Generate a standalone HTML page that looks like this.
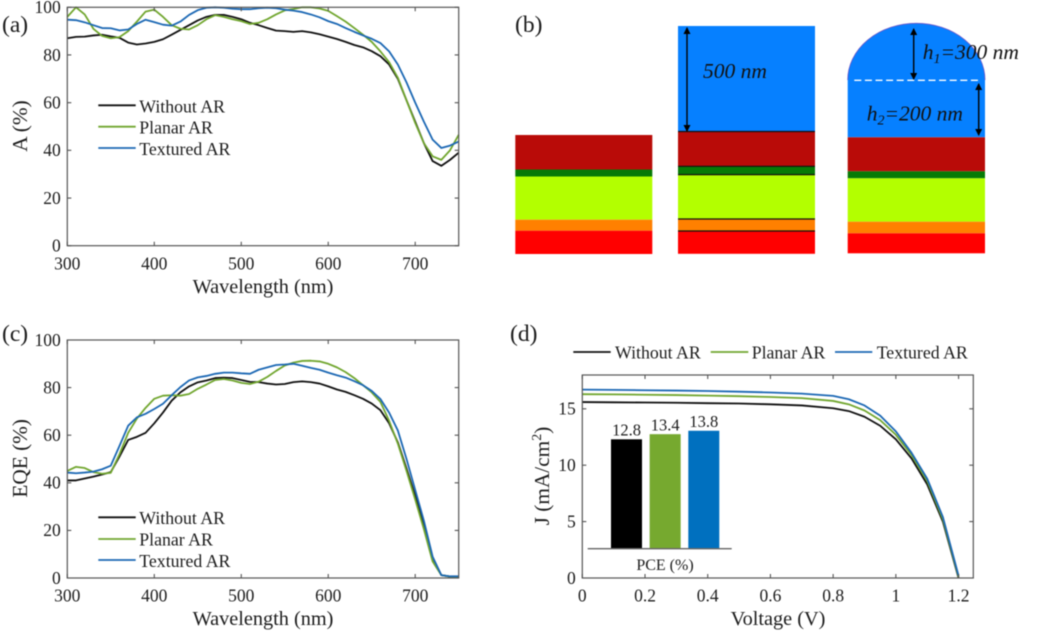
<!DOCTYPE html>
<html lang="en">
<head>
<meta charset="utf-8">
<title>Anti-reflection coating solar cell figure</title>
<style>
html,body{margin:0;padding:0;background:#fff;}
svg{display:block;filter:blur(0.45px);}
text{font-family:"Liberation Serif",serif;fill:#1c1c1c;}
.tick{font-size:17.5px;}
.title{font-size:20.3px;}
.ytitle{font-size:21.3px;}
.leg{font-size:17.8px;}
.panel{font-size:23.5px;}
.note{font-size:21.5px;font-style:italic;fill:#111;}
</style>
</head>
<body>
<svg id="fig" xmlns="http://www.w3.org/2000/svg" width="1059" height="634" viewBox="0 0 1059 634">
  <defs>
    <marker id="ah" markerWidth="9" markerHeight="9" refX="6" refY="3.5" orient="auto-start-reverse" markerUnits="userSpaceOnUse">
      <path d="M0,0 L7,3.5 L0,7 Z" fill="#000"></path>
    </marker>
  </defs>
  <text class="panel" x="2" y="32">(a)</text>
  <text class="panel" x="515" y="32">(b)</text>
  <text class="panel" x="2" y="341">(c)</text>
  <text class="panel" x="510" y="341">(d)</text>

  <g>
    <rect x="515.3" y="135" width="137" height="34.5" fill="#b90b08"></rect>
    <rect x="515.3" y="169.5" width="137" height="7" fill="#067a06"></rect>
    <rect x="515.3" y="176.5" width="137" height="43.2" fill="#b3ff00"></rect>
    <rect x="515.3" y="219.7" width="137" height="11" fill="#ff8000"></rect>
    <rect x="515.3" y="230.7" width="137" height="23.3" fill="#ff0000"></rect>
  </g>

  <g>
    <rect x="678" y="26" width="137" height="105" fill="#0680ff"></rect>
    <rect x="678" y="131" width="137" height="35.5" fill="#b90b08"></rect>
    <rect x="678" y="166.5" width="137" height="8" fill="#067a06"></rect>
    <rect x="678" y="174.5" width="137" height="44.5" fill="#b3ff00"></rect>
    <rect x="678" y="219" width="137" height="12" fill="#ff8000"></rect>
    <rect x="678" y="231" width="137" height="22.8" fill="#ff0000"></rect>
    <g stroke="#111" stroke-width="1.2">
      <line x1="678" x2="815" y1="131.5" y2="131.5"></line>
      <line x1="678" x2="815" y1="166.3" y2="166.3"></line>
      <line x1="678" x2="815" y1="174.6" y2="174.6"></line>
      <line x1="678" x2="815" y1="219" y2="219"></line>
      <line x1="678" x2="815" y1="231" y2="231"></line>
    </g>
    <line x1="687" x2="687" y1="28" y2="131" stroke="#000" stroke-width="1.4" marker-start="url(#ah)" marker-end="url(#ah)"></line>
    <text class="note" x="703" y="78">500 nm</text>
  </g>

  <g>
    <path d="M847.7,137.3 V80 A68.65,56.7 0 0 1 985,80 V137.3 Z" fill="#0680ff"></path>
    <path d="M847.7,80 A68.65,56.7 0 0 1 985,80" fill="none" stroke="#6a55c8" stroke-width="0.8"></path>
    <rect x="847.7" y="137.3" width="137.3" height="34" fill="#b90b08"></rect>
    <rect x="847.7" y="171.3" width="137.3" height="7" fill="#067a06"></rect>
    <rect x="847.7" y="178.3" width="137.3" height="43.4" fill="#b3ff00"></rect>
    <rect x="847.7" y="221.7" width="137.3" height="11.6" fill="#ff8000"></rect>
    <rect x="847.7" y="233.3" width="137.3" height="20" fill="#ff0000"></rect>
    <line x1="854.3" x2="979" y1="80.3" y2="80.3" stroke="#fff" stroke-width="1.4" stroke-dasharray="7 3.6"></line>
    <line x1="913.7" x2="913.7" y1="29" y2="79" stroke="#000" stroke-width="1.4" marker-start="url(#ah)" marker-end="url(#ah)"></line>
    <line x1="978.7" x2="978.7" y1="84" y2="135" stroke="#000" stroke-width="1.4" marker-start="url(#ah)" marker-end="url(#ah)"></line>
    <text class="note" x="922.7" y="59">h<tspan font-size="14" dy="4">1</tspan><tspan dy="-4">=300 nm</tspan></text>
    <text class="note" x="866.7" y="120.7">h<tspan font-size="14" dy="4">2</tspan><tspan dy="-4">=200 nm</tspan></text>
  </g>
</svg>

<script>
// ---- shared data
const seriesNames = ['Without AR', 'Planar AR', 'Textured AR'];
const wavelengths = [300,310,320,330,340,350,360,370,380,390,400,410,420,430,440,450,460,470,480,490,500,510,520,530,540,550,560,570,580,590,600,610,620,630,640,650,660,670,680,690,700,710,720,730,740,750];
const wavelengthTicks = [300,400,500,600,700];
const percentTicks = [0,20,40,60,80,100];

// ---- panel (a) absorption
const absWithout = [87,87.6,87.7,88.2,88.5,87.8,87.2,85.2,84.4,84.8,85.5,86.6,88.5,90.5,92.5,94.5,96,96.8,96.8,96,95,93.5,92.5,91.3,90.2,90,89.7,90,89.5,88.7,87.7,86.7,85.5,84.2,83.2,81.6,79.5,76,70,61,52,43,35.5,33.5,36,39];
const absPlanar = [96,100,97,91,88,87,87.5,90,94,98.2,99,96,92.5,91,90.7,92.5,95,96.7,96,95,94.2,93,93.5,95,97,98.7,99.3,100,100,99.5,98.5,96.3,94,91.3,88.5,85.5,81.5,77,70.5,61,51.5,43,37.5,36,40,46.5];
const absTextured = [94.8,94.6,93.7,92.5,91.3,91.2,90.3,90.7,93,94.8,93.8,92.7,92.3,94,96.8,98.8,99.8,100,99.8,99.4,99.2,99.2,99.6,99.8,99.6,99,98.6,98,97,95.8,94.2,93,91.3,89.7,88.2,86.8,85,81.5,76,68.5,60,52,44.5,41,42,43.7];

// ---- panel (c) EQE
const eqeWithout = [41,41,41.8,42.6,43.5,44.5,51,58,59.3,61,65,69.5,74.5,78,80.5,82.2,83,84,84.2,84,83.2,82.4,82.3,81.7,81.3,81.5,82.3,82.6,82.3,81.7,80.5,79.2,78.2,76.8,75.3,73.3,70.5,65,57,46,34.5,22,8.5,1.2,0.6,0.5];
const eqePlanar = [45,46.7,46.2,44.5,43.8,44.2,52,61,67,71.5,75.3,76.6,76.8,76.6,77.3,79.5,81.3,83.2,83.6,83,82,81.5,82.5,84.5,87,89.3,90.5,91.2,91.3,91,90,88.5,86.5,84,81,78,74,66,56.5,45,33,20.5,7,1.2,0.6,0.5];
const eqeTextured = [44.3,44,44.3,44.7,45.7,47.2,55.5,64,67.5,69,71,73.2,76.8,80.2,83,84.3,84.9,85.8,86.3,86.3,86,85.8,87.5,88.5,89.5,89.7,90,89.2,88.3,87.5,86.3,85.2,84.2,82.7,81,78.6,75.2,69.5,62,50,37,24,9,1.2,0.7,0.7];

// ---- panel (d) J-V
const voltages = [0,0.1,0.2,0.3,0.4,0.5,0.6,0.7,0.8,0.85,0.9,0.95,1,1.05,1.1,1.15,1.2];
const jWithout = [15.6,15.58,15.56,15.54,15.5,15.47,15.4,15.3,15.05,14.8,14.3,13.5,12.3,10.6,8.3,5,0];
const jPlanar = [16.3,16.28,16.25,16.22,16.17,16.12,16.05,15.95,15.7,15.4,14.85,14,12.7,10.9,8.6,5.2,0.1];
const jTextured = [16.7,16.68,16.65,16.62,16.58,16.52,16.45,16.35,16.15,15.85,15.3,14.4,13,11.1,8.8,5.4,0.2];
const voltageTicks = [0,0.2,0.4,0.6,0.8,1,1.2];
const currentTicks = [0,5,10,15];

// ---- inset bars
const pceValues = [12.8,13.4,13.8];
const pceLabels = ['12.8','13.4','13.8'];

const lineColors = ['#111111','#71a62f','#1c68b4'];
const barColors = ['#000000','#76a92f','#0070bf'];
const NS = 'http://www.w3.org/2000/svg';
const fig = document.getElementById('fig');

function mk(tag, parent, props, txt) {
  const el = document.createElementNS(NS, tag);
  for (const k in props) el.setAttribute(k, props[k]);
  if (txt !== undefined) el.textContent = txt;
  parent.appendChild(el);
  return el;
}
function scale(d0, d1, r0, r1) {
  return v => r0 + (v - d0) * (r1 - r0) / (d1 - d0);
}

function drawChart(name, box, xDom, yDom, xTicks, yTicks, xVals, ys) {
  const g = mk('g', fig, {});
  
  
  const x = scale(xDom[0], xDom[1], box.l, box.r);
  const y = scale(yDom[0], yDom[1], box.b, box.t);

  ys.forEach((vals, i) => {
    const d = vals.map((v, j) => (j ? 'L' : 'M') + x(xVals[j]).toFixed(2) + ',' + y(v).toFixed(2)).join(' ');
    const p = mk('path', g, {d: d, fill: 'none', stroke: lineColors[i], 'stroke-width': 1.8, 'stroke-linejoin': 'round'});
    
    
  });

  const frame = mk('rect', g, {x: box.l, y: box.t, width: box.r - box.l, height: box.b - box.t, fill: 'none', stroke: '#555', 'stroke-width': 1.2});
  
  

  xTicks.forEach(t => {
    const px = x(t);
    const mark = mk('path', g, {d: 'M' + px + ',' + box.b + 'v-4M' + px + ',' + box.t + 'v4', stroke: '#555', 'stroke-width': 1.1, fill: 'none'});
    
    
    const lab = mk('text', g, {class: 'tick', x: px, y: box.b + 23.7, 'text-anchor': 'middle'}, String(t));
    
    
  });
  yTicks.forEach(t => {
    const py = y(t);
    const mark = mk('path', g, {d: 'M' + box.l + ',' + py + 'h4M' + box.r + ',' + py + 'h-4', stroke: '#555', 'stroke-width': 1.1, fill: 'none'});
    
    
    const lab = mk('text', g, {class: 'tick', x: box.l - 6.5, y: py + 5.8, 'text-anchor': 'end'}, String(t));
    
    
  });
  return {g, x, y};
}

function addTitles(g, xText, xCx, xBase, yText, yBase, yCy) {
  const xt = mk('text', g, {class: 'title', x: xCx, y: xBase, 'text-anchor': 'middle'}, xText);
  
  
  const yt = mk('text', g, {class: 'ytitle', transform: 'translate(' + yBase + ',' + yCy + ') rotate(-90)', 'text-anchor': 'middle'}, yText);
  
  
  return yt;
}

function addLegendEntry(g, i, x1, x2, ly, tx, ty) {
  const ln = mk('line', g, {x1: x1, x2: x2, y1: ly, y2: ly, stroke: lineColors[i], 'stroke-width': 1.8});
  
  
  const t = mk('text', g, {class: 'leg', x: tx, y: ty}, seriesNames[i]);
  
  
}

// panel (a)
const boxA = {l: 67.3, r: 458.7, t: 7.3, b: 245.7};
const a = drawChart('absorption-chart', boxA, [300,750], [0,100], wavelengthTicks, percentTicks, wavelengths, [absWithout, absPlanar, absTextured]);
addTitles(a.g, 'Wavelength (nm)', 263, 293, 'A (%)', 27, 126);
[[105.3,112.3],[126.7,133.5],[148,155]].forEach((p, i) => addLegendEntry(a.g, i, 98.3, 135.7, p[0], 139.3, p[1]));

// panel (c)
const boxC = {l: 67.3, r: 458.7, t: 340, b: 578};
const c = drawChart('eqe-chart', boxC, [300,750], [0,100], wavelengthTicks, percentTicks, wavelengths, [eqeWithout, eqePlanar, eqeTextured]);
addTitles(c.g, 'Wavelength (nm)', 263, 625, 'EQE (%)', 27, 458.3);
[[517.3,524],[539,545.5],[560,567]].forEach((p, i) => addLegendEntry(c.g, i, 98.3, 135.7, p[0], 139.3, p[1]));

// panel (d)
const boxD = {l: 582.3, r: 973.3, t: 375, b: 578};
const d = drawChart('jv-chart', boxD, [0,1.247], [0,18], voltageTicks, currentTicks, voltages, [jWithout, jPlanar, jTextured]);
const yTitle = addTitles(d.g, 'Voltage (V)', 778, 625, 'J (mA/cm', 549, 476);
const sup = mk('tspan', yTitle, {'font-size': 14, dy: -8}, '2');


const close = mk('tspan', yTitle, {dy: 8}, ')');


addLegendEntry(d.g, 0, 573.3, 610.7, 352, 615, 358.7);
addLegendEntry(d.g, 1, 710.7, 748.3, 352, 751.7, 358.7);
addLegendEntry(d.g, 2, 835, 872.3, 352, 876.7, 358.7);

// inset bar chart
const inset = mk('g', fig, {});


const insetBase = 548.7;
const barY = scale(0, 12.8, insetBase, 439.3);
const barLeft = scale(0, 2, 611, 688.3);
const barWidth = 31;
pceValues.forEach((v, i) => {
  const bx = barLeft(i);
  const by = barY(v);
  const r = mk('rect', inset, {x: bx, y: by, width: barWidth, height: insetBase - by, fill: barColors[i]});
  
  
  const t = mk('text', inset, {x: bx + barWidth / 2, y: by - 3.8, 'text-anchor': 'middle', 'font-size': 16.5}, pceLabels[i]);
  
  
});
const base = mk('line', inset, {x1: 587.7, x2: 731.7, y1: insetBase, y2: insetBase, stroke: '#666', 'stroke-width': 1.3});


const pceT = mk('text', inset, {x: 665, y: 570, 'text-anchor': 'middle', 'font-size': 16}, 'PCE (%)');


</script>
</body>
</html>
